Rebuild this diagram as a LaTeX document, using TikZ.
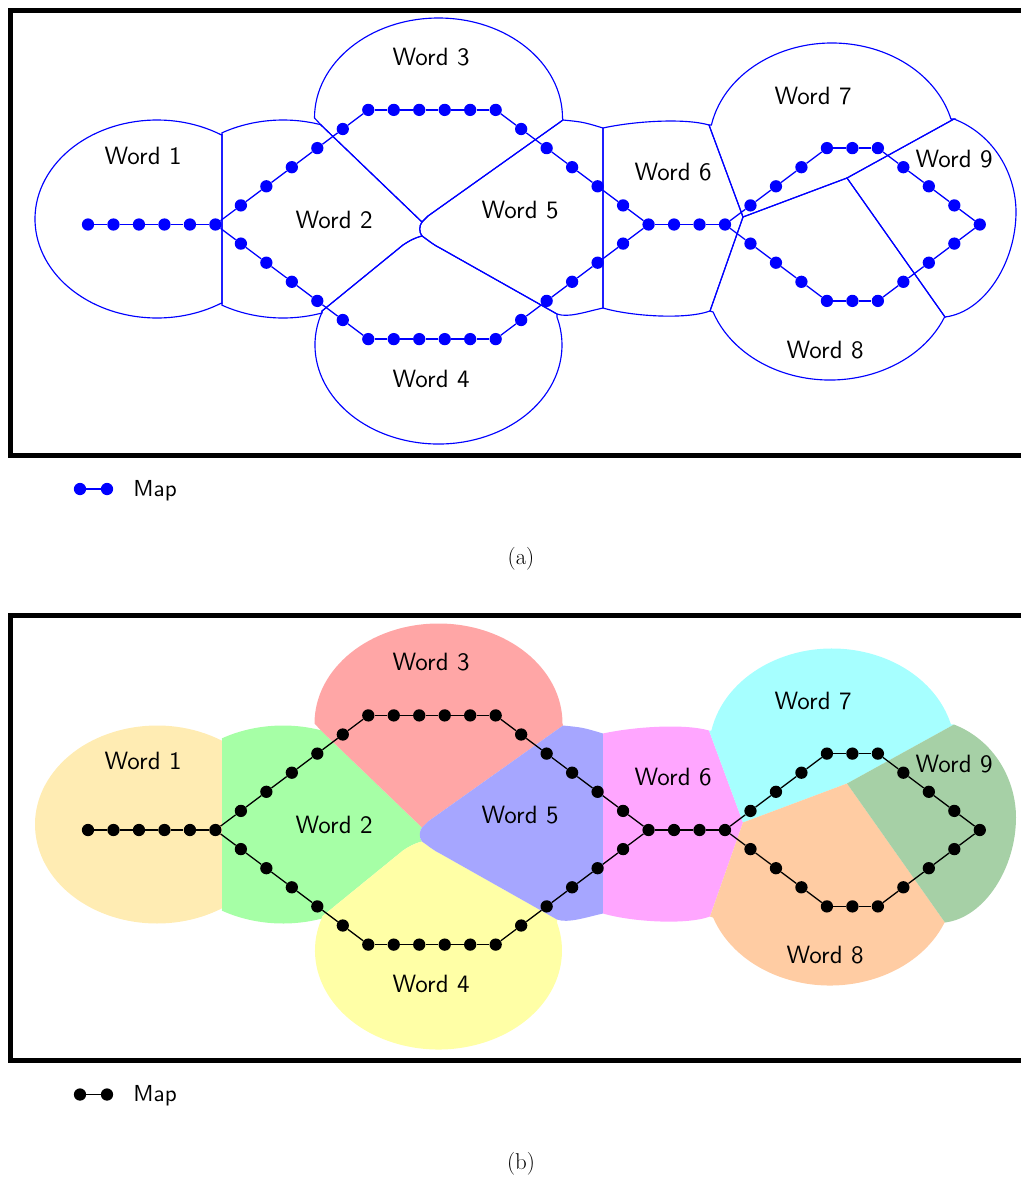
\documentclass[tikz,border=0pt]{standalone}
\usepackage{fontspec}
\usetikzlibrary{calc}

\definecolor{cellone}{RGB}{255,236,179}
\definecolor{celltwo}{RGB}{166,255,166}
\definecolor{cellthree}{RGB}{255,166,166}
\definecolor{cellfour}{RGB}{255,255,166}
\definecolor{cellfive}{RGB}{166,166,255}
\definecolor{cellsix}{RGB}{255,166,255}
\definecolor{cellseven}{RGB}{166,255,255}
\definecolor{celleight}{RGB}{255,204,163}
\definecolor{cellnine}{RGB}{166,208,166}

% vertical level of every point of the map (0 = centre row)
\def\mapk{{0,0,0,0,0,0,1,2,3,4,5,6,6,6,6,6,6,5,4,3,2,1,0,0,0,0,1,2,3,4,4,4,3,2,1,0}}

% elliptic arc that starts with a line to its own start point
\newcommand\elarc[6]{-- ($(#1,#2)+(#5:#3 and #4)$) arc[start angle=#5,end angle=#6,x radius=#3,y radius=#4]}

% the nine word cells
\newcommand\cellA{(222,134) \elarc{157}{219}{122}{99}{-57.8}{-302.2} -- (222,304) -- cycle}
\newcommand\cellB{(222,134) \elarc{283}{219}{124}{99}{-119.5}{-72.2} -- (321,125) -- (422,222)
  .. controls (419,226) and (419,232) .. (422,236)
  .. controls (414,238) and (409,241) .. (403,245) -- (322,311)
  \elarc{283}{219}{124}{99}{71.6}{119.5} -- (222,304) -- cycle}
\newcommand\cellC{(321,125) \elarc{438.5}{118}{124}{100}{180}{360} -- (563,120) -- (428,216)
  .. controls (424,219) .. (422,222) -- cycle}
\newcommand\cellD{(322,311) \elarc{438.5}{345}{123.5}{99}{199.5}{-16.3} -- (557,314) -- (440,248)
  .. controls (432,244) and (428,240) .. (422,236)
  .. controls (414,238) and (409,241) .. (403,245) -- cycle}
\newcommand\cellE{(422,222) .. controls (424,219) .. (428,216) -- (563,120)
  .. controls (583,122) .. (603,128) -- (603,308)
  .. controls (585,312) and (568,318) .. (557,314) -- (440,248)
  .. controls (432,244) and (428,240) .. (422,236)
  .. controls (419,232) and (419,226) .. (422,222) -- cycle}
\newcommand\cellF{(603,128) .. controls (635,121) and (685,118) .. (709,125) -- (743,217) -- (710,311)
  .. controls (685,320) and (630,316) .. (603,308) -- cycle}
\newcommand\cellG{(709,125) \elarc{832}{145}{123}{102}{191.3}{345.2} -- (954,119) -- (847,178) -- (743,217) -- cycle}
\newcommand\cellH{(743,217) -- (847,178) -- (945,317) \elarc{830}{278}{124}{102}{22.5}{160.5} -- (710,311) -- cycle}
\newcommand\cellI{(954,119) .. controls (995,135) and (1016,175) .. (1016,212)
  .. controls (1016,262) and (985,312) .. (945,317) -- (847,178) -- cycle}

\newcommand\allcells[9]{%
  \path[#1] \cellA; \path[#2] \cellB; \path[#3] \cellC;
  \path[#4] \cellD; \path[#5] \cellE; \path[#6] \cellF;
  \path[#7] \cellG; \path[#8] \cellH; \path[#9] \cellI;}

% the map: points and the links between neighbours
\newcommand\drawmap[2]{%
  \foreach \i in {0,...,35}{%
    \pgfmathtruncatemacro\k{\mapk[\i]}%
    \pgfmathsetmacro\xx{88+25.48*\i}%
    \pgfmathsetmacro\yu{224.5-19.1*\k}%
    \pgfmathsetmacro\yl{224.5+19.1*\k}%
    \ifnum\k=0
      \node[dot,fill=#2,alias=#1l\i] (#1u\i) at (\xx,\yu) {};%
    \else
      \node[dot,fill=#2] (#1u\i) at (\xx,\yu) {};%
      \node[dot,fill=#2] (#1l\i) at (\xx,\yl) {};%
    \fi}%
  \foreach \i in {0,...,34}{%
    \pgfmathtruncatemacro\j{\i+1}%
    \pgfmathtruncatemacro\ks{\mapk[\i]+\mapk[\j]}%
    \draw[mapline,#2] (#1u\i) -- (#1u\j);%
    \ifnum\ks>0 \draw[mapline,#2] (#1l\i) -- (#1l\j);\fi}%
}

\newcommand\wordlabels[1]{%
  \node[word] (#1w1) at (143,164) {Word 1};
  \node[word] (#1w2) at (334,228) {Word 2};
  \node[word] (#1w3) at (431,65) {Word 3};
  \node[word] (#1w4) at (431,387) {Word 4};
  \node[word] (#1w5) at (520,218) {Word 5};
  \node[word] (#1w6) at (673,180) {Word 6};
  \node[word] (#1w7) at (813,104) {Word 7};
  \node[word] (#1w8) at (825,358) {Word 8};
  \node[word] (#1w9) at (954,167) {Word 9};}

\newcommand\legend[3]{%
  \node[dot,fill=#2] (#1k1) at (80,489) {};
  \node[dot,fill=#2] (#1k2) at (107,489) {};
  \draw[mapline,#2] (#1k1) -- (#1k2);
  \node[legtext] (#1kt) at (133,496) {Map};
  \node[caption] (#1cap) at (521,558.5) {#3};}

\begin{document}
\begin{tikzpicture}[x=0.7pt,y=-0.7pt,
  dot/.style={circle,inner sep=0pt,minimum size=8.6pt},
  mapline/.style={line width=0.9pt},
  cellline/.style={draw=blue,line width=0.8pt},
  frame/.style={draw=black,line width=3.9pt},
  word/.style={font=\sffamily,scale=1.75,anchor=base,inner sep=0pt},
  legtext/.style={font=\sffamily,scale=1.62,anchor=base west,inner sep=0pt},
  caption/.style={font=\fontsize{16}{19}\selectfont,inner sep=0pt}]
\useasboundingbox (0,0) rectangle (1021,1178);
\clip (0,0) rectangle (1021,1178);

% (a) cell outlines with the map on top
\begin{scope}
  \allcells{cellline}{cellline}{cellline}{cellline}{cellline}{cellline}{cellline}{cellline}{cellline}
  \drawmap{a}{blue}
  \wordlabels{a}
  \draw[frame] (10.3,10.5) rectangle (1040,455.5);
  \legend{a}{blue}{(a)}
\end{scope}

% (b) filled cells with the map on top
\begin{scope}[shift={(0,605.5)}]
  \allcells{fill=cellone}{fill=celltwo}{fill=cellthree}{fill=cellfour}{fill=cellfive}{fill=cellsix}{fill=cellseven}{fill=celleight}{fill=cellnine}
  \drawmap{b}{black}
  \wordlabels{b}
  \draw[frame] (10.3,10) rectangle (1040,455);
  \legend{b}{black}{(b)}
\end{scope}
\end{tikzpicture}
\end{document}
